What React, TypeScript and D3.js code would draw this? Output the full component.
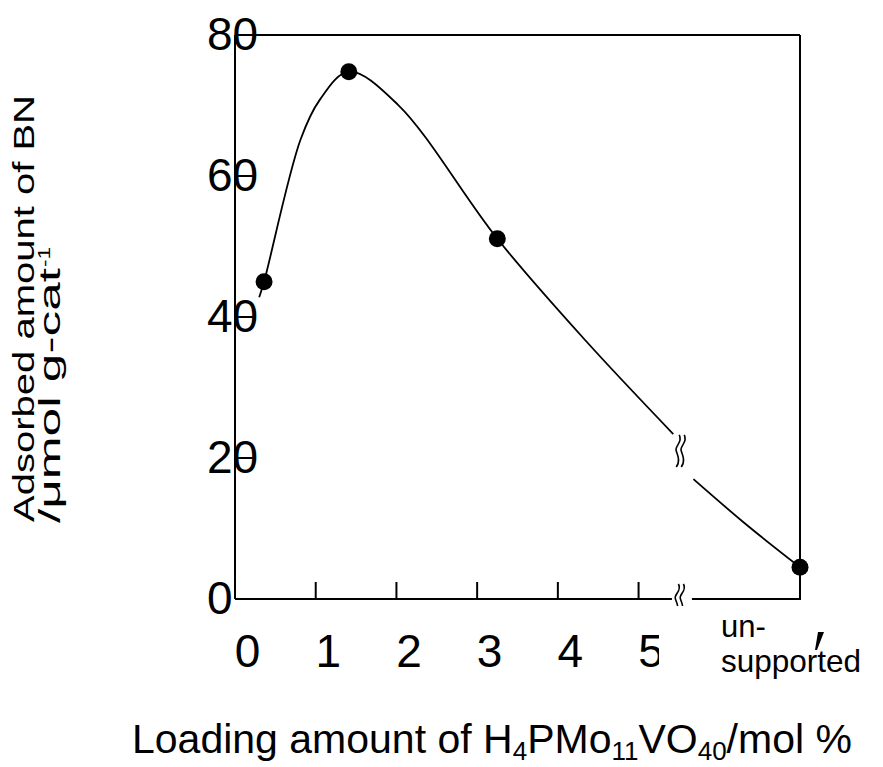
import React from "react";
import * as d3 from "d3";

const xTicks = [0, 1, 2, 3, 4, 5];
const xTickLabels = ["0", "1", "2", "3", "4", "5"];
const yTicks = [0, 20, 40, 60, 80];
const yTickLabels = ["0", "20", "40", "60", "80"];

const pointX = [0.36, 1.41, 3.25, 7.0];
const pointY = [45.0, 74.8, 51.1, 4.5];

// fitted curve (hand-drawn in original)
const curve1X = [0.3, 0.36, 0.81, 1.05, 1.41, 2.02, 3.25, 4.34, 5.43];
const curve1Y = [42.8, 45.0, 65.1, 70.8, 74.8, 70.1, 51.1, 36.7, 23.4];
const curve2X = [5.68, 6.33, 7.0];
const curve2Y = [17.0, 10.6, 4.5];

const axisBreakX = 5.5;
const curveBreak = [5.51, 21.0];

const FONT = "'Liberation Sans', Arial, Helvetica, sans-serif";

export default function App() {
  const W = 883, H = 767;
  const x = d3.scaleLinear().domain([0, 7]).range([235, 800]);
  const y = d3.scaleLinear().domain([0, 80]).range([599, 35]);

  const line = d3
    .line<[number, number]>()
    .x((d) => x(d[0]))
    .y((d) => y(d[1]))
    .curve(d3.curveCatmullRom.alpha(0.5));

  const c1 = line(curve1X.map((v, i) => [v, curve1Y[i]] as [number, number]));
  const c2 = line(curve2X.map((v, i) => [v, curve2Y[i]] as [number, number]));

  const squiggle = (cx: number, cy: number, h: number) => {
    const s = (dx: number) =>
      `M${cx + dx + 2},${cy - h / 2} C${cx + dx + 6},${cy - h / 4} ${cx + dx - 3},${cy - h / 6} ${cx + dx - 1},${cy} S${cx + dx + 3},${cy + h / 3} ${cx + dx - 1},${cy + h / 2}`;
    return s(-2.5) + " " + s(2.5);
  };

  const bx = x(axisBreakX);
  const by = y(0);
  const cbx = x(curveBreak[0]);
  const cby = y(curveBreak[1]);

  return (
    <svg
      width={W}
      height={H}
      style={{ position: "absolute", left: 0, top: 0, background: "#fff" }}
      fontFamily={FONT}
    >
      <rect x={0} y={0} width={W} height={H} fill="#fff" />
      {/* frame: left, top, right */}
      <line x1={x(0)} y1={y(80)} x2={x(0)} y2={y(0)} stroke="#000" strokeWidth={2} />
      <line x1={x(0)} y1={y(80)} x2={x(7)} y2={y(80)} stroke="#000" strokeWidth={2} />
      <line x1={x(7)} y1={y(80)} x2={x(7)} y2={y(0) + 1} stroke="#000" strokeWidth={2} />
      {/* bottom axis with break */}
      <line x1={x(0)} y1={by} x2={bx - 7} y2={by} stroke="#000" strokeWidth={2} />
      <line x1={bx + 13} y1={by} x2={x(7) + 1} y2={by} stroke="#000" strokeWidth={2} />
      <path d={squiggle(bx, by, 30)} fill="none" stroke="#000" strokeWidth={1.6} />

      {/* x ticks */}
      {xTicks.slice(1).map((t) => (
        <line key={t} x1={x(t)} x2={x(t)} y1={by} y2={by - 17} stroke="#000" strokeWidth={2} />
      ))}
      {/* y ticks */}
      {yTicks.map((t) => (
        <line key={t} x1={x(0)} x2={x(0) + 20} y1={y(t)} y2={y(t)} stroke="#000" strokeWidth={2} />
      ))}

      {/* y tick labels */}
      {yTicks.map((t, i) => (
        <text key={t} x={207} y={y(t) - 1} fontSize={46} dominantBaseline="central" textAnchor="start">
          {yTickLabels[i]}
        </text>
      ))}
      {/* x tick labels */}
      {xTicks.map((t, i) => (
        <text key={t} x={x(t) + 12.5} y={667} fontSize={46} textAnchor="middle">
          {xTickLabels[i]}
        </text>
      ))}
      {/* white mask over broken region label */}
      <rect x={659} y={606} width={210} height={95} fill="#fff" />
      <text x={721} y={637} fontSize={31}>un-</text>
      <text x={721} y={672} fontSize={31.5}>supported</text>
      <path d="M818,632 L824,632 L817,650 L815,650 Z" fill="#000" />

      {/* curve */}
      <path d={c1 || ""} fill="none" stroke="#000" strokeWidth={1.8} />
      <path d={c2 || ""} fill="none" stroke="#000" strokeWidth={1.8} />
      <path d={squiggle(cbx, cby, 32)} fill="none" stroke="#000" strokeWidth={1.6} />

      {/* points */}
      {pointX.map((v, i) => (
        <circle key={i} cx={x(v)} cy={y(pointY[i])} r={8.5} fill="#000" />
      ))}

      {/* y title */}
      <g transform="translate(34,522) rotate(-90)">
        <text x={0} y={0} fontSize={30} textLength={427} lengthAdjust="spacingAndGlyphs">
          Adsorbed amount of BN
        </text>
      </g>
      <g transform="translate(60,523) rotate(-90)">
        <text x={0} y={0} fontSize={30} textLength={255} lengthAdjust="spacingAndGlyphs">
          /μmol g-cat
        </text>
      </g>
      <g transform="translate(60,267) rotate(-90)">
        <text x={0} y={-10} fontSize={17} textLength={20} lengthAdjust="spacingAndGlyphs">
          -1
        </text>
      </g>

      {/* x title */}
      <text x={132} y={753} fontSize={41}>
        Loading amount of H
        <tspan fontSize={26} dy={7}>4</tspan>
        <tspan dy={-7}>PMo</tspan>
        <tspan fontSize={26} dy={7}>11</tspan>
        <tspan dy={-7}>VO</tspan>
        <tspan fontSize={26} dy={7}>40</tspan>
        <tspan dy={-7}>/mol %</tspan>
      </text>
    </svg>
  );
}
